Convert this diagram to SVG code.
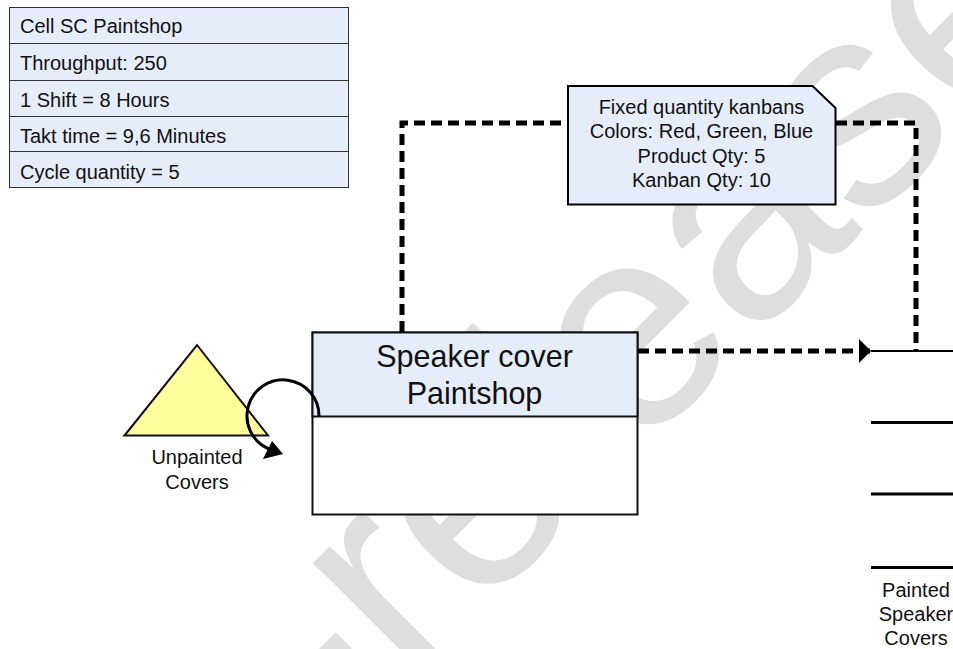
<svg xmlns="http://www.w3.org/2000/svg" width="953" height="649" viewBox="0 0 953 649">
<style>
text{font-family:"Liberation Sans",Arial,sans-serif;fill:#111}
.c{text-anchor:middle}
.s{font-size:20px}
.b{fill:#e6edf8;stroke:#333;stroke-width:1}
.d{stroke:#000;fill:none;stroke-width:5;stroke-dasharray:11 6}
.wm{font-size:290px;fill:#dedede;text-anchor:end}
</style>
<defs><marker id="arr" markerUnits="userSpaceOnUse" markerWidth="13" markerHeight="24" refX="12" refY="12" orient="auto"><path d="M0 0L12 12L0 24Z" fill="#000"/></marker></defs>
<rect width="953" height="649" fill="#fff"/>
<g id="watermark"><text class="wm" transform="translate(1080 13) rotate(-45)">Pre-release</text></g>
<g id="info-table">
<rect class="b" x="9.500" y="7.500" width="339" height="36"/><rect class="b" x="9.500" y="43.500" width="339" height="37"/><rect class="b" x="9.500" y="80.500" width="339" height="36"/><rect class="b" x="9.500" y="116.500" width="339" height="35"/><rect class="b" x="9.500" y="151.500" width="339" height="36"/>
<text class="s" x="20" y="33">Cell SC Paintshop</text><text class="s" x="20" y="70">Throughput: 250</text><text class="s" x="20" y="107">1 Shift = 8 Hours</text><text class="s" x="20" y="143">Takt time = 9,6 Minutes</text><text class="s" x="20" y="179">Cycle quantity = 5</text>
</g>
<g id="inventory"><path d="M124.500 435.500L197 345L268 435.500Z" fill="#ffff9e" stroke="#111" stroke-width="2"/><text class="s c" x="197" y="464">Unpainted</text><text class="s c" x="197" y="489">Covers</text></g>
<g id="process"><rect x="312.500" y="332.500" width="325" height="182" fill="#fff" stroke="#111" stroke-width="2"/><rect x="312.500" y="332.500" width="325" height="84" fill="#e6edf8" stroke="#111" stroke-width="2"/><text class="c" font-size="30.500" x="474.500" y="367">Speaker cover</text><text class="c" font-size="30.500" x="474.500" y="404">Paintshop</text></g>
<g id="kanban"><path d="M568 86H812.500L835.500 108V204.500H568Z" fill="#e6edf8" stroke="#000" stroke-width="2"/><text class="s c" x="701.500" y="114">Fixed quantity kanbans</text><text class="s c" x="701.500" y="138">Colors: Red, Green, Blue</text><text class="s c" x="701.500" y="163">Product Qty: 5</text><text class="s c" x="701.500" y="187">Kanban Qty: 10</text></g>
<g id="supermarket"><path d="M871 351H953" stroke="#000" stroke-width="2"/><path d="M871 422.500H953M871 494H953M871 567.500H953" stroke="#000" stroke-width="3"/><text class="s c" x="916" y="597">Painted</text><text class="s c" x="916" y="621">Speaker</text><text class="s c" x="916" y="645">Covers</text></g>
<g id="connectors">
<path class="d" d="M402 332V123H567"/><path class="d" d="M836 123H916V351"/>
<path class="d" d="M638 351H871" marker-end="url(#arr)"/>
<path fill="none" stroke="#000" stroke-width="3" d="M319 416A36 36 0 1 0 269 449"/>
<path d="M283 454L263 459L272 441Z" fill="#000"/>
</g>
</svg>
